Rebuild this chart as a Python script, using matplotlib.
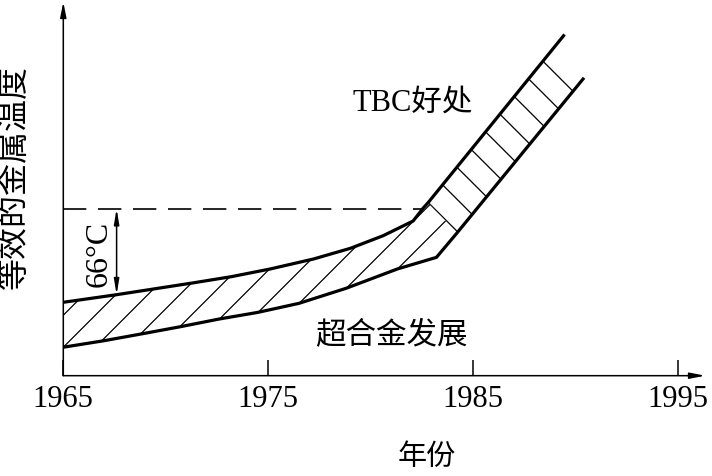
import numpy as np
import matplotlib
matplotlib.use('Agg')
import matplotlib.pyplot as plt
from matplotlib.patches import Polygon

plt.rcParams['font.family'] = ['Liberation Serif', 'Noto Sans CJK SC']

# band edges (arbitrary temperature scale, 1 unit ~ 1 degC)
years_upper = [1965.0, 1967.6, 1971.3, 1973.2, 1975.1, 1977.2, 1979.0, 1980.6,
               1982.06, 1982.55, 1982.8, 1989.4]
temp_upper = [57.0, 62.9, 72.0, 76.9, 82.9, 90.6, 98.9, 108.7,
              120.1, 130.1, 134.5, 264.0]
years_lower = [1965.0, 1967.0, 1968.8, 1970.7, 1972.6, 1974.5, 1976.5, 1978.8,
               1981.3, 1983.2, 1984.2, 1990.35]
temp_lower = [22.1, 27.2, 32.4, 38.0, 44.0, 49.2, 56.2, 67.9,
              82.9, 91.9, 110.8, 230.4]
split_upper = 10   # index where TBC part starts on upper edge
split_lower = 10   # same on lower edge
dash_level = 129.7
gap_year = years_upper[1]
tick_years = [1965, 1975, 1985, 1995]

fig = plt.figure(figsize=(7.12, 4.77), dpi=100)
ax = fig.add_axes([0.0889, 0.2103, 0.9013, 0.7834])
ax.set_xlim(1965, 1996.3)
ax.set_ylim(0, 290.2)

for s in ax.spines.values():
    s.set_visible(False)
ax.set_yticks([])
ax.set_xticks(tick_years)
ax.tick_params(axis='x', direction='in', length=11.5, width=1.1,
               labelsize=22, pad=6)

# axes with arrows
arrow_kw = dict(arrowstyle='-|>,head_length=0.9,head_width=0.18',
                lw=1.1, color='black', shrinkA=0, shrinkB=0)
ax.annotate('', xy=(0, 1), xytext=(0, 0), xycoords='axes fraction',
            arrowprops=arrow_kw)
ax.annotate('', xy=(1, 0), xytext=(0, 0), xycoords='axes fraction',
            arrowprops=arrow_kw)

# band regions
xu, yu = np.array(years_upper), np.array(temp_upper)
xl, yl = np.array(years_lower), np.array(temp_lower)
alloy_pts = np.vstack([np.column_stack([xu[:split_upper + 1], yu[:split_upper + 1]]),
                       np.column_stack([xl[:split_lower + 1], yl[:split_lower + 1]])[::-1]])
tbc_pts = np.vstack([np.column_stack([xu[split_upper:], yu[split_upper:]]),
                     np.column_stack([xl[split_lower:], yl[split_lower:]])[::-1]])
alloy_patch = Polygon(alloy_pts, closed=True, fc='none', ec='none')
tbc_patch = Polygon(tbc_pts, closed=True, fc='none', ec='none')
ax.add_patch(alloy_patch)
ax.add_patch(tbc_patch)

# slope giving 45 degrees on screen, and hatch spacing
p0 = ax.transData.transform((1965, 0))
p1 = ax.transData.transform((1966, 1))
px_year = p1[0] - p0[0]
px_unit = p1[1] - p0[1]
k = px_year / px_unit
step = 32 / px_year
ytop = 290.2

# superalloy: "/" hatch
c0 = xl[0] - yl[0] / k
for c in np.arange(c0 - step, 1986, step):
    ln, = ax.plot([c, c + ytop / k], [0, ytop], color='black', lw=0.9)
    ln.set_clip_path(alloy_patch)

# TBC benefit: "\" hatch
c1 = xu[split_upper] + yu[split_upper] / k
for i in range(9):
    c = c1 + i * step
    ln, = ax.plot([c - ytop / k, c], [ytop, 0], color='black', lw=0.9)
    ln.set_clip_path(tbc_patch)
# boundary between the two regions
ln, = ax.plot([c1 - ytop / k, c1], [ytop, 0], color='black', lw=0.9)
ln.set_clip_path(alloy_patch)

# band edges
ax.plot(years_upper, temp_upper, color='black', lw=2.3, solid_joinstyle='miter')
ax.plot(years_lower, temp_lower, color='black', lw=2.3, solid_joinstyle='miter')

# 66 degC reference
ax.plot([1965, years_upper[9]], [dash_level, dash_level], color='black',
        lw=1.2, dashes=(14, 7))
ax.annotate('', xy=(gap_year, temp_upper[1]), xytext=(gap_year, dash_level),
            arrowprops=dict(arrowstyle='<|-|>,head_length=0.9,head_width=0.15',
                            lw=1.1, color='black', shrinkA=0, shrinkB=0))
ax.text(1966.75, 95.3, '66°C', rotation=90, fontsize=23,
        ha='center', va='center')

ax.text(1982.06, 212.7, 'TBC好处', fontsize=22, ha='center', va='center')
ax.text(1980.99, 31.8, '超合金发展', fontsize=22, ha='center', va='center')

ax.set_xlabel('年份', fontsize=21, va='center')
ax.xaxis.set_label_coords(0.567, -0.216)
ax.set_ylabel('等效的金属温度', fontsize=23, va='center')
ax.yaxis.set_label_coords(-0.0753, 0.534)

fig.savefig('out.png', dpi=100)
